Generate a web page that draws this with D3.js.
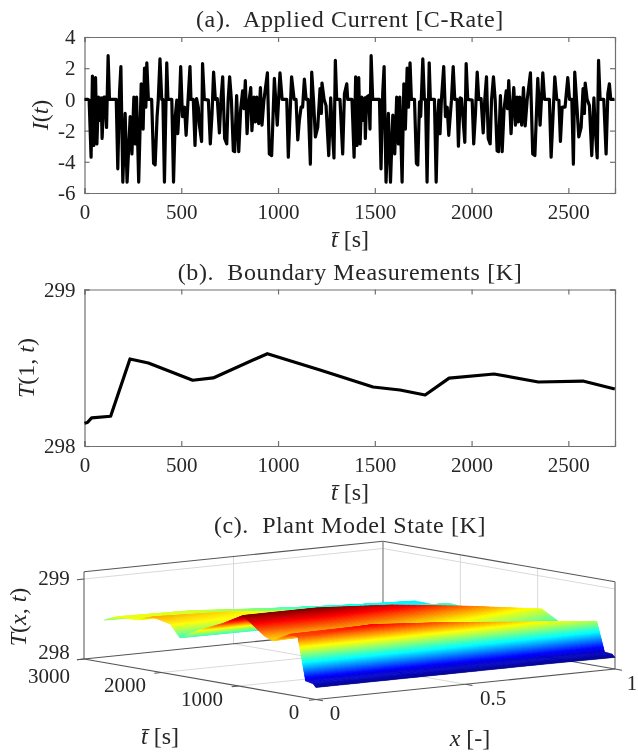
<!DOCTYPE html>
<html>
<head>
<meta charset="utf-8">
<script src="https://cdn.jsdelivr.net/npm/d3@7/dist/d3.min.js"></script>
<style>
html, body { margin: 0; padding: 0; background: #fff; }
svg { display: block; filter: blur(0.45px); }
text { font-family: "Liberation Serif", serif; fill: #262626; }
</style>
</head>
<body>
<div id="chart"></div>
<script>
const currentTime = [0,17,24,34,41,48,57,64,72,79,86,91,100,107,114,122,129,164,172,181,188,198,210,220,236,245,255,262,269,280,293,303,310,317,322,330,347,357,365,375,381,390,399,405,413,425,431,451,460,469,477,482,491,497,506,517,525,535,
  545,550,562,571,579,588,593,605,610,619,640,650,659,667,676,686,697,705,714,724,735,742,750,759,769,776,786,797,807,817,824,831,840,848,859,865,876,883,890,900,909,917,927,945,955,967,981,996,1010,1021,1045,1053,1070,1083,1093,
  1102,1110,1119,1127,1136,1145,1155,1167,1174,1183,1193,1205,1217,1224,1227,1238,1248,1262,1272,1279,1289,1296,1303,1320,1334,1343,1355,1360,1382,1393,1401,1408,1417,1424,1432,1441,1448,1451,1458,1469,1475,1481,1489,1524,1532,1541,1548,1558,1570,1581,1593,1603,1613,1622,1629,1641,
  1650,1658,1667,1674,1682,1689,1705,1715,1722,1731,1737,1748,1756,1762,1770,1781,1787,1808,1817,1825,1831,1837,1844,1856,1865,1874,1882,1896,1905,1913,1925,1932,1941,1948,1955,1965,1972,1980,2003,2011,2020,2029,2037,2049,2060,2068,2077,2086,2096,2103,2113,2122,2132,2139,2149,2158,2168,2179,2186,2192,2204,2211,
  2218,2227,2235,2242,2249,2259,2268,2277,2287,2304,2316,2327,2342,2354,2368,2377,2402,2411,2430,2440,2451,2459,2468,2483,2497,2506,2518,2526,2533,2542,2554,2566,2576,2583,2587,2597,2609,2621,2632,2638,2649,2656,2664,2683,2695,2704,2712,2719,2738];
const currentValue = [0,0,-.05,-3.7,1.5,-2.95,1.4,-2.85,.15,-1.35,.1,-2.5,.15,.15,-1.8,2.8,0,0,-4.45,.45,2.1,-5.3,-.9,-5.3,-1.1,-3.5,.15,-2.85,.15,-5.3,1,-1.9,2,-.5,2.35,0,0,-4.1,-4.2,-1.1,-.05,2.6,0,0,-5.3,2.35,0,0,-5.3,-1.1,-.05,-2.2,-.05,2.1,-1.1,-.5,-2.3,-.05,
  2.1,0,0,-2.95,.05,-.5,-1.6,-2.7,2.3,0,-.05,-2.85,-.9,1.75,0,.05,-2.15,-.05,1.45,-2.5,-2.85,-.05,1.45,-.05,-3.3,-3.35,.25,-3.35,-.6,.55,-.6,1.2,-2.2,-.3,.75,-2,.15,-1.45,.15,-1.55,.75,-1.65,-.05,1.7,-3.5,-3.6,1.35,-1.65,1.7,0,0,-3.7,1.45,0,0,
  -2.6,-1.35,-.5,-.5,1.3,0,0,-4.15,1.75,0,-2.4,-1.8,.7,-.9,1.05,0,-.4,-3.6,.1,-1.7,-3.75,2.5,0,0,-3.5,.35,1,0,0,-3.7,1.45,-2.95,1.4,-2.85,.15,-1.35,.1,-2.5,.15,.25,-1.9,2.8,0,0,-4.45,.45,2.1,-5.3,-.9,-5.3,-1,-3.5,.15,-2.85,.15,-5.3,
  1,-1.9,2,-.5,2.35,0,0,-4.1,-4.2,-.15,-1.1,2.6,0,0,-5.3,2.35,0,0,-5.3,-1.1,-.05,-2.2,-.05,2.1,-1.1,-.5,-2.3,-.05,2.1,0,0,-3,.1,.05,-1.1,-2.75,2.3,0,-.05,-2.85,-.9,1.75,0,.05,-2.15,-.05,1.45,-2.5,-2.85,-.05,1.45,-.05,-3.3,-3.35,.25,-3.35,-.6,.55,-.6,1.2,-2.2,-.5,
  .75,-1.65,.15,-1.45,.15,-1.65,.75,-1.7,-.05,1.7,-3.5,-3.6,1.35,-1.65,1.7,0,0,-3.7,1.45,0,-.05,-2.7,-.5,-.5,1.4,0,0,-4.15,1.75,0,-2.4,-1.8,.7,-.9,1.05,0,-.4,-3.6,.1,-1.7,-3.75,2.5,0,0,-3.5,.35,1,0,0];

const boundaryTime = [0,15,37,135,235,330,559,665,945,1217,1491,1630,1760,1884,2116,2345,2575,2740];
const boundaryValue = [298.145,298.15,298.18,298.19,298.556,298.53,298.42,298.435,298.59,298.486,298.377,298.358,298.326,298.434,298.46,298.409,298.415,298.364];

const timeTicks = [0,500,1000,1500,2000,2500];
const currentTicks = [-6,-4,-2,0,2,4];
const boundaryTicks = [298,299];

// surface: one row of temperatures per x position
const surfaceX = [0,0.25,0.5,0.75,1];
const surfaceTime = [0,37,135,235,330,559,665,945,1217,1491,1630,1760,1884,2116,2345,2575,2740];
const surfaceAt0 = [298.15,298.19,298.21,298.74,298.76,298.64,298.68,298.89,298.74,298.62,298.55,298.475,298.625,298.675,298.6,298.6,298.53];
const surfaceAt25 = [298.15,298.19,298.21,298.8,298.77,298.67,298.7,298.89,298.76,298.62,298.56,298.47,298.6,298.64,298.58,298.58,298.52];
const surfaceAt50 = [298.15,298.185,298.2,298.73,298.71,298.62,298.64,298.83,298.72,298.6,298.55,298.43,298.53,298.56,298.51,298.51,298.47];
const surfaceAt75 = [298.15,298.18,298.2,298.64,298.62,298.54,298.56,298.72,298.62,298.5,298.46,298.38,298.47,298.5,298.45,298.45,298.42];
const surfaceAt100 = [298.145,298.18,298.19,298.556,298.53,298.42,298.435,298.59,298.486,298.377,298.358,298.326,298.434,298.46,298.409,298.415,298.364];
const surfaceRows = [surfaceAt0,surfaceAt25,surfaceAt50,surfaceAt75,surfaceAt100];

const depthTicks = [0,1000,2000,3000];
const widthTicks = [0,0.5,1];
const heightTicks = [298,299];

const W = 638, H = 754;
const svg = d3.select("#chart").append("svg").attr("width", W).attr("height", H);
const tickFont = 21;

const xA = d3.scaleLinear().domain([0,2741]).range([84.5,615]);
const yA = d3.scaleLinear().domain([-6,4]).range([193,37]);
const yB = d3.scaleLinear().domain([298,299]).range([446,289.5]);

function title(str, x, y) {
  svg.append("text").attr("x", x).attr("y", y).attr("text-anchor", "middle")
    .attr("font-size", 24).attr("letter-spacing", 0.6).attr("xml:space", "preserve").text(str);
}

function mathLabel(parts, x, y, rotate) {
  const t = svg.append("text").attr("text-anchor", "middle").attr("font-size", 24)
    .attr("transform", `translate(${x},${y})` + (rotate ? " rotate(-90)" : ""));
  parts.forEach(p => t.append("tspan").attr("font-style", p[1] ? "italic" : "normal").text(p[0]));
}

function panel(y, yTicks, values, times) {
  const top = y.range()[1], bottom = y.range()[0];
  const left = xA.range()[0], right = xA.range()[1];

  const bottomAxis = d3.axisBottom(xA).tickValues(timeTicks).tickSize(-5).tickPadding(11).tickFormat(d => String(d));
  const topAxis = d3.axisTop(xA).tickValues(timeTicks).tickSize(-5).tickFormat("");
  const leftAxis = d3.axisLeft(y).tickValues(yTicks).tickSize(-5).tickPadding(9).tickFormat(d => String(d));
  const rightAxis = d3.axisRight(y).tickValues(yTicks).tickSize(-5).tickFormat("");

  [[bottomAxis,0,bottom],[topAxis,0,top],[leftAxis,left,0],[rightAxis,right,0]].forEach(a => {
    const g = svg.append("g").attr("transform", `translate(${a[1]},${a[2]})`).call(a[0]);
    g.selectAll("path,line").attr("stroke", "#707070").attr("stroke-width", 1.2);
    g.selectAll("text").attr("font-size", tickFont).attr("fill", "#262626");
    g.attr("font-family", null);
  });

  const line = d3.line().x((d, i) => xA(times[i])).y(d => y(d));
  svg.append("path").datum(values).attr("fill", "none").attr("stroke", "#000")
    .attr("stroke-width", 3.2).attr("stroke-linejoin", "round").attr("d", line);
}

title("(a).  Applied Current [C-Rate]", 350, 27);
panel(yA, currentTicks, currentValue, currentTime);
mathLabel([["t\u0304",1],[" [s]",0]], 350, 247);
mathLabel([["I",1],["(",0],["t",1],[")",0]], 48, 115, true);

title("(b).  Boundary Measurements [K]", 350, 280);
panel(yB, boundaryTicks, boundaryValue, boundaryTime);
mathLabel([["t\u0304",1],[" [s]",0]], 350, 500);
mathLabel([["T",1],["(1, ",0],["t",1],[")",0]], 34, 368, true);

title("(c).  Plant Model State [K]", 350, 533);

// oblique view of panel (c)
const depthX = d3.scaleLinear().domain([0,3000]).range([0,-232]);
const depthY = d3.scaleLinear().domain([0,3000]).range([0,-40.5]);
const widthX = d3.scaleLinear().domain([0,1]).range([316,615]);
const widthY = d3.scaleLinear().domain([0,1]).range([699.5,669]);
const heightY = d3.scaleLinear().domain([298,299]).range([0,-80]);

const project = (x, t, z) => [widthX(x) + depthX(t), widthY(x) + depthY(t) + heightY(z)];
const zTop = 299.09;
const seg = d3.line();
const g3 = svg.append("g").attr("fill", "none");

function edge(a, b, color, w) {
  g3.append("path").attr("d", seg([project(...a), project(...b)])).attr("stroke", color).attr("stroke-width", w);
}

const gridGray = "#d9d9d9";
heightTicks.filter(z => z > 298).forEach(z => {
  edge([0,3000,z],[1,3000,z],gridGray,1);
  edge([1,3000,z],[1,0,z],gridGray,1);
});
widthTicks.filter(x => x > 0 && x < 1).forEach(x => {
  edge([x,3000,298],[x,3000,zTop],gridGray,1);
  edge([x,0,298],[x,3000,298],gridGray,1);
});
depthTicks.filter(t => t > 0 && t < 3000).forEach(t => {
  edge([1,t,298],[1,t,zTop],gridGray,1);
  edge([0,t,298],[1,t,298],gridGray,1);
});

const darkLine = "#555";
edge([0,3000,zTop],[1,3000,zTop],darkLine,1.1);
edge([1,3000,zTop],[1,0,zTop],darkLine,1.1);
edge([0,3000,298],[0,3000,zTop],"#707070",1.2);
edge([1,3000,298],[1,3000,zTop],"#808080",1.2);
edge([1,0,298],[1,0,zTop],"#707070",1.2);
edge([0,3000,298],[1,3000,298],darkLine,1.1);
edge([1,3000,298],[1,0,298],darkLine,1.1);
edge([0,3000,298],[0,0,298],darkLine,1.1);
edge([0,0,298],[1,0,298],darkLine,1.1);

// ticks stick out of the floor edges
depthTicks.forEach(t => {
  const p = project(0,t,298);
  g3.append("path").attr("d", seg([p,[p[0]-7,p[1]+0.7]])).attr("stroke", darkLine).attr("stroke-width", 1.1);
});
widthTicks.forEach(x => {
  const p = project(x,0,298);
  g3.append("path").attr("d", seg([p,[p[0]+7,p[1]+1.2]])).attr("stroke", darkLine).attr("stroke-width", 1.1);
});
heightTicks.forEach(z => {
  const p = project(0,3000,z);
  g3.append("path").attr("d", seg([p,[p[0]-7,p[1]+0.7]])).attr("stroke", darkLine).attr("stroke-width", 1.1);
});

const jet = d3.scaleLinear()
  .domain([0,0.125,0.375,0.625,0.875,1].map(f => 298.15 + f * 0.74))
  .range(["#00008f","#0000ff","#00ffff","#ffff00","#ff0000","#800000"])
  .clamp(true);

// colour follows temperature, so each grid cell is cut into thin strips
const surface = svg.append("g");
const lerp = (p, q, f) => p + (q - p) * f;
for (let i = surfaceTime.length - 2; i >= 0; i--) {
  for (let j = surfaceX.length - 2; j >= 0; j--) {
    const t0 = surfaceTime[i], t1 = surfaceTime[i+1];
    const x0 = surfaceX[j], x1 = surfaceX[j+1];
    const a = surfaceRows[j][i], b = surfaceRows[j+1][i];
    const c = surfaceRows[j][i+1], d = surfaceRows[j+1][i+1];
    const nt = Math.max(2, Math.ceil(Math.max(Math.abs(c-a), Math.abs(d-b)) / 0.004));
    const nx = 14;
    for (let m = nt - 1; m >= 0; m--) {
      for (let n = nx - 1; n >= 0; n--) {
        const u0 = m / nt, u1 = (m+1) / nt, v0 = n / nx, v1 = (n+1) / nx;
        const val = (u, v) => lerp(lerp(a,b,v), lerp(c,d,v), u);
        const corner = (u, v) => project(lerp(x0,x1,v), lerp(t0,t1,u), val(u,v));
        const col = jet(val((u0+u1)/2, (v0+v1)/2));
        surface.append("path")
          .attr("d", seg([corner(u0,v0),corner(u0,v1),corner(u1,v1),corner(u1,v0)]) + "Z")
          .attr("fill", col).attr("stroke", col).attr("stroke-width", 0.4);
      }
    }
  }
}

function tick3(str, x, y) {
  svg.append("text").attr("x", x).attr("y", y).attr("text-anchor", "middle").attr("font-size", tickFont).text(str);
}
const depthLabelPos = {0:[294,719], 1000:[202,706], 2000:[125,692], 3000:[49,683]};
depthTicks.forEach(t => tick3(String(t), depthLabelPos[t][0], depthLabelPos[t][1]));
const widthLabelPos = {0:[335,720], 0.5:[493,705], 1:[632,690]};
widthTicks.forEach(x => tick3(String(x), widthLabelPos[x][0], widthLabelPos[x][1]));
const heightLabelPos = {298:[54,659], 299:[54,585]};
heightTicks.forEach(z => tick3(String(z), heightLabelPos[z][0], heightLabelPos[z][1]));

mathLabel([["t\u0304",1],[" [s]",0]], 160, 744);
mathLabel([["x",1],[" [-]",0]], 470, 746);
mathLabel([["T",1],["(",0],["x",1],[", ",0],["t",1],[")",0]], 26, 617, true);
</script>
</body>
</html>
